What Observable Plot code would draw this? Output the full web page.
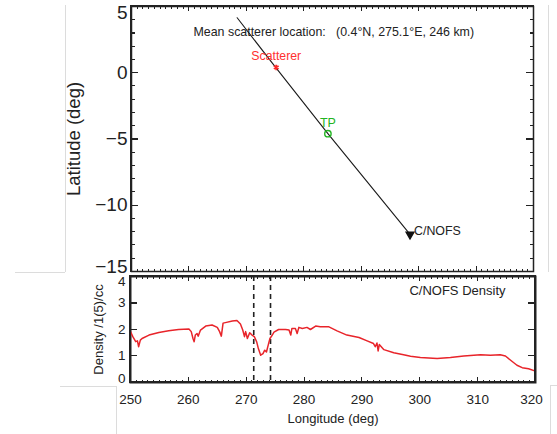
<!DOCTYPE html>
<html>
<head>
<meta charset="utf-8">
<script src="https://cdn.jsdelivr.net/npm/d3@7"></script>
<script src="https://cdn.jsdelivr.net/npm/@observablehq/plot@0.6"></script>
<style>
  body { margin: 0; background: white; }
  #wrap { position: relative; width: 557px; height: 434px; }
  .ov { position: absolute; box-sizing: border-box; pointer-events: none; }
</style>
</head>
<body>
<div id="wrap"></div>
<script>
// ---- data ----
const lonMajor = [250, 260, 270, 280, 290, 300, 310, 320];
const lonMinor = d3.range(250, 321, 1);
const latMajor = [5, 0, -5, -10, -15];
const latMinor = d3.range(-15, 6, 1);
const densMajor = [0, 1, 2, 3, 4];
const lonDom = [250, 320], latDom = [-15, 5], densDom = [0, 4];

const trackLon = [268.4, 275.1, 284.2, 298.5];
const trackLat = [4.15, 0.4, -4.6, -12.2];

const scatLon = [275.2], scatLat = [0.4], scatName = ["Scatterer"];
const tpLon = [284.2], tpLat = [-4.6], tpName = ["TP"];
const satLon = [298.5], satLat = [-12.2], satName = ["C/NOFS"];

const titleText = "Mean scatterer location:\u00a0\u00a0\u00a0(0.4°N, 275.1°E, 246 km)";

const densLon = [250.0,250.4,250.9,251.2,251.4,251.7,252.0,253.2,254.9,256.6,258.3,260.1,260.5,260.8,261.0,261.2,261.5,261.7,262.1,263.0,264.1,265.0,265.4,265.7,266.0,266.4,267.6,268.4,269.0,269.4,269.7,269.9,270.2,270.6,271.0,271.4,271.8,272.1,272.5,272.9,273.2,273.5,273.8,274.1,274.5,274.8,275.6,276.8,277.4,277.7,277.9,278.5,278.8,279.1,279.7,280.5,281.1,282.0,282.8,284.3,285.7,287.4,289.5,290.9,292.0,292.3,292.6,292.8,293.0,293.8,295.5,297.2,298.4,300.1,303.0,305.3,307.6,310.5,312.2,313.9,314.8,315.7,316.8,317.7,318.8,320.0];
const densVal = [1.92,1.73,1.54,1.57,1.35,1.60,1.66,1.79,1.89,1.95,2.00,2.02,1.92,1.66,1.54,1.79,1.85,1.75,1.98,2.13,2.17,2.08,1.92,1.75,2.24,2.26,2.32,2.34,2.21,1.98,1.73,1.92,1.66,1.88,1.79,1.73,1.54,1.28,1.03,1.09,1.22,1.15,1.41,1.66,1.79,1.90,2.00,2.00,1.98,1.79,2.04,2.04,1.85,2.08,2.04,2.08,2.00,2.13,2.10,2.10,1.95,1.79,1.70,1.57,1.47,1.35,1.49,1.19,1.43,1.24,1.12,1.05,0.99,0.94,0.91,0.94,1.00,1.05,1.03,1.05,1.00,0.84,0.65,0.56,0.52,0.43];
const dashLon = [271.3, 274.2];

const track = trackLon.map((x, i) => ({lon: x, lat: trackLat[i]}));
const pts = (lo, la, nm) => lo.map((x, i) => ({lon: x, lat: la[i], name: nm[i]}));
const scat = pts(scatLon, scatLat, scatName);
const tp = pts(tpLon, tpLat, tpName);
const sat = pts(satLon, satLat, satName);
const dens = densLon.map((x, i) => ({lon: x, d: densVal[i]}));

const FONT = "Liberation Sans, Arial, sans-serif";
const INK = "#222";
const fmt = d3.format("d");

// ---- top panel ----
const topPanel = Plot.plot({
  width: 557, height: 273,
  marginLeft: 131, marginRight: 24, marginTop: 6, marginBottom: 2,
  style: {fontFamily: FONT},
  x: {domain: lonDom, axis: null},
  y: {domain: latDom, axis: null},
  marks: [
    Plot.frame({stroke: INK, strokeWidth: 1.5}),
    Plot.axisY({anchor: "left", ticks: [0, -5, -10], tickSize: 0, tickPadding: 4, tickFormat: fmt, fontSize: 19, fill: INK, label: null}),
    Plot.axisY({anchor: "left", ticks: [5], tickSize: 0, tickPadding: 4, tickFormat: fmt, fontSize: 19, fill: INK, label: null, dy: 6.5}),
    Plot.axisY({anchor: "left", ticks: [-15], tickSize: 0, tickPadding: 4, tickFormat: fmt, fontSize: 19, fill: INK, label: null, dy: -5}),
    Plot.text(["Latitude (deg)"], {frameAnchor: "left", dx: -57, rotate: -90, textAnchor: "middle", lineAnchor: "middle", fontSize: 18.5, fill: INK}),
    Plot.text([titleText], {frameAnchor: "top-left", dx: 62, dy: 26, textAnchor: "start", lineAnchor: "middle", fontSize: 12.4, fill: INK}),
    Plot.line(track, {x: "lon", y: "lat", stroke: "#1a1a1a", strokeWidth: 1.1}),
    Plot.dot(scat, {x: "lon", y: "lat", symbol: "asterisk", r: 2.6, stroke: "#ff2a2a", strokeWidth: 1.8}),
    Plot.text(scat, {x: "lon", y: "lat", text: "name", dy: -11, fontSize: 12.3, fill: "#ff3030"}),
    Plot.dot(tp, {x: "lon", y: "lat", symbol: "circle", r: 3.2, stroke: "#22b422", strokeWidth: 1.4, fill: "none"}),
    Plot.text(tp, {x: "lon", y: "lat", text: "name", dy: -11, fontSize: 12.5, fill: "#22b422"}),
    Plot.dot(sat, {x: "lon", y: "lat", symbol: "triangle", r: 2.8, rotate: 180, fill: "#111", stroke: "#111"}),
    Plot.text(sat, {x: "lon", y: "lat", text: "name", dx: 4, dy: -3, textAnchor: "start", fontSize: 12.4, fill: INK})
  ]
});

// ---- bottom panel ----
const botPanel = Plot.plot({
  width: 557, height: 161,
  marginLeft: 130, marginRight: 22, marginTop: 3, marginBottom: 52,
  style: {fontFamily: FONT},
  x: {domain: lonDom, axis: null},
  y: {domain: densDom, axis: null},
  marks: [
    Plot.frame({stroke: INK, strokeWidth: 2}),
    Plot.axisX({anchor: "bottom", ticks: lonMajor.slice(0, -1), tickSize: 0, tickPadding: 12, tickFormat: fmt, fontSize: 13.5, fill: INK, label: null}),
    Plot.axisX({anchor: "bottom", ticks: lonMajor.slice(-1), tickSize: 0, tickPadding: 12, tickFormat: fmt, fontSize: 13.5, fill: INK, label: null, dx: -4}),
    Plot.axisY({anchor: "left", ticks: [1, 2, 3], tickSize: 0, tickPadding: 5, tickFormat: fmt, fontSize: 13.5, fill: INK, label: null}),
    Plot.axisY({anchor: "left", ticks: [4], tickSize: 0, tickPadding: 5, tickFormat: fmt, fontSize: 13.5, fill: INK, label: null, dy: 5}),
    Plot.axisY({anchor: "left", ticks: [0], tickSize: 0, tickPadding: 5, tickFormat: fmt, fontSize: 13.5, fill: INK, label: null, dy: -3.5}),
    Plot.ruleX(dashLon, {stroke: INK, strokeWidth: 1.6, strokeDasharray: "5,4"}),
    Plot.line(dens, {x: "lon", y: "d", stroke: "#e8242a", strokeWidth: 1.5}),
    Plot.text(["C/NOFS Density"], {frameAnchor: "top-right", dx: -30, dy: 14, textAnchor: "end", lineAnchor: "middle", fontSize: 13, fill: INK}),
    Plot.text(["Density /1(5)/cc"], {frameAnchor: "left", dx: -32, rotate: -90, textAnchor: "middle", lineAnchor: "middle", fontSize: 13, fill: INK}),
    Plot.text(["Longitude (deg)"], {frameAnchor: "bottom", dy: 36, lineAnchor: "middle", fontSize: 13, fill: INK})
  ]
});

const wrap = document.getElementById("wrap");
wrap.append(topPanel, botPanel);

// ---- panel boxes and inward tick combs (IDL-style), placed from each plot's scales ----
function box(css) {
  const d = document.createElement("div");
  d.className = "ov";
  d.style.cssText = css;
  wrap.append(d);
}
function comb(dir, left, top, w, h, step) {
  box(`left:${left}px;top:${top}px;width:${w}px;height:${h}px;` +
      `background:repeating-linear-gradient(${dir}, ${INK} 0px, ${INK} 1px, transparent 1px, transparent ${step}px);`);
}
function decorate(plot, offY, xMinor, xMajor, yMinor, yMajor, bw, xs, xl, ys, yl) {
  const sx = plot.scale("x"), sy = plot.scale("y");
  const x0 = sx.apply(sx.domain[0]), x1 = sx.apply(sx.domain[1]);
  const yTop = sy.apply(sy.domain[1]) + offY, yBot = sy.apply(sy.domain[0]) + offY;
  const W = x1 - x0, H = yBot - yTop;
  const stepX = (v) => Math.abs(sx.apply(v[1]) - sx.apply(v[0]));
  const stepY = (v) => Math.abs(sy.apply(v[1]) - sy.apply(v[0]));
  const L = x0 - 0.5, T = yTop - 0.5;
  if (xMinor) {
    comb("to right", L, yTop, W + 1, xs, stepX(xMinor));
    comb("to right", L, yBot - xs, W + 1, xs, stepX(xMinor));
  }
  comb("to right", L, yTop, W + 1, xl, stepX(xMajor));
  comb("to right", L, yBot - xl, W + 1, xl, stepX(xMajor));
  if (yMinor) {
    comb("to bottom", x0, T, ys, H + 1, stepY(yMinor));
    comb("to bottom", x1 - ys, T, ys, H + 1, stepY(yMinor));
  }
  comb("to bottom", x0, T, yl, H + 1, stepY(yMajor));
  comb("to bottom", x1 - yl, T, yl, H + 1, stepY(yMajor));
  box(`left:${x0 - bw / 2}px;top:${yTop - bw / 2}px;width:${W + bw}px;height:${H + bw}px;border:${bw}px solid ${INK};`);
}
decorate(topPanel, 0, lonMinor, lonMajor, latMinor, latMajor, 1.5, 2.5, 5, 3.5, 7);
decorate(botPanel, 273, lonMinor, lonMajor, null, densMajor, 2, 2.5, 5, 0, 7);

// faint page-crop lines of the source figure
[[65,5,1,267],[15,272,50,1],[548,5,1,267],[60,386,56,1],[116,386,1,48],[550,385,7,1],[550,385,1,49]]
  .forEach(([l, t, w, h]) => box(`left:${l}px;top:${t}px;width:${w}px;height:${h}px;background:#dcdcdc;`));
</script>
</body>
</html>
